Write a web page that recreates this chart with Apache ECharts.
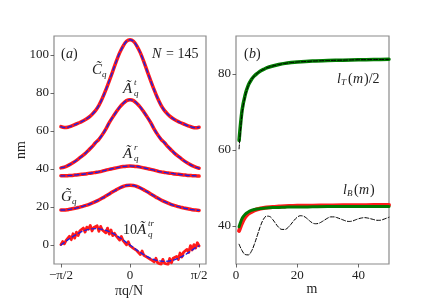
<!DOCTYPE html>
<html><head><meta charset="utf-8">
<script src="https://cdn.jsdelivr.net/npm/echarts@6/dist/echarts.min.js"></script>
<style>html,body{margin:0;padding:0;background:#fff}#c{width:432px;height:302px}</style>
</head><body><div id="c"></div>
<script>
// ---------- data: panel (a) ----------
// q in units of pi/2
const qGrid = [-1,-0.95,-0.9,-0.85,-0.8,-0.75,-0.7,-0.65,-0.6,-0.55,-0.5,-0.45,-0.4,-0.35,-0.3,-0.25,-0.2,-0.15,-0.1,-0.05,0,0.05,0.1,0.15,0.2,0.25,0.3,0.35,0.4,0.45,0.5,0.55,0.6,0.65,0.7,0.75,0.8,0.85,0.9,0.95,1];
const Cq  = [62.3,61.8,62.0,62.6,63.3,64.1,64.9,65.9,67.1,68.7,70.7,73.5,77.2,81.6,86.4,91.4,96.5,101.1,104.7,107.2,108.0,107.2,104.7,101.1,96.5,91.4,86.4,81.6,77.2,73.5,70.7,68.7,67.1,65.9,64.9,64.1,63.3,62.6,62.0,61.7,62.0];
const Atq = [40.6,41.0,41.8,42.8,43.9,45.2,46.6,48.1,49.9,51.7,53.8,55.6,58.1,61.0,64.4,67.3,70.0,72.5,74.5,76.0,76.5,76.0,74.5,72.5,70.0,67.3,64.4,61.0,58.1,55.6,53.8,51.7,49.9,48.1,46.6,45.2,43.9,42.8,41.8,41.0,40.4];
const Arq = [36.4,36.4,36.5,36.6,36.8,37.0,37.2,37.4,37.7,37.9,38.2,38.5,38.9,39.4,39.8,40.2,40.6,41.0,41.3,41.5,41.6,41.5,41.3,41.0,40.6,40.2,39.8,39.4,38.9,38.5,38.2,37.9,37.7,37.4,37.2,37.0,36.8,36.6,36.5,36.4,36.3];
const Gq  = [18.4,18.4,18.6,18.9,19.3,19.7,20.2,20.7,21.3,22.0,22.8,23.7,24.7,25.8,26.9,28.0,29.0,30.0,30.8,31.3,31.5,31.3,30.8,30.0,29.0,28.0,26.9,25.8,24.7,23.7,22.8,22.0,21.3,20.7,20.2,19.7,19.3,18.9,18.6,18.4,18.2];
const AtrFit = [0,1.3,2.7,3.9,5.1,6.1,7.0,7.7,8.2,8.5,8.6,8.5,8.2,7.7,7.0,6.1,5.1,3.9,2.7,1.3,0,-1.3,-2.7,-3.9,-5.1,-6.1,-7.0,-7.7,-8.2,-8.5,-8.6,-8.5,-8.2,-7.7,-7.0,-6.1,-5.1,-3.9,-2.7,-1.4,-0.4];
const qFine = [-1,-0.975,-0.95,-0.925,-0.9,-0.875,-0.85,-0.825,-0.8,-0.775,-0.75,-0.725,-0.7,-0.675,-0.65,-0.625,-0.6,-0.575,-0.55,-0.525,-0.5,-0.475,-0.45,-0.425,-0.4,-0.375,-0.35,-0.325,-0.3,-0.275,-0.25,-0.225,-0.2,-0.175,-0.15,-0.125,-0.1,-0.075,-0.05,-0.025,0,0.025,0.05,0.075,0.1,0.125,0.15,0.175,0.2,0.225,0.25,0.275,0.3,0.325,0.35,0.375,0.4,0.425,0.45,0.475,0.5,0.525,0.55,0.575,0.6,0.625,0.65,0.675,0.7,0.725,0.75,0.775,0.8,0.825,0.85,0.875,0.9,0.925,0.95,0.975,1];
const AtrData = [0.2,1.8,0.6,2.4,1.5,4.6,2.8,5.9,3.6,6.8,5.0,7.5,6.6,8.9,6.8,9.4,8.3,10.3,7.4,9.2,8.9,10.1,7.2,9.8,7.9,8.6,6.4,8.9,5.7,7.9,4.9,6.2,4.8,5.6,2.6,4.5,2.3,2.9,0.1,1.7,-0.4,-0.2,-1.8,-1.6,-3.0,-2.9,-5.0,-3.2,-5.4,-5.1,-6.5,-6.3,-7.6,-6.9,-8.9,-7.0,-9.3,-8.4,-10.2,-7.6,-9.6,-8.7,-10.3,-7.1,-9.4,-7.0,-7.8,-6.0,-7.6,-4.2,-6.3,-3.8,-4.4,-2.3,-3.9,-0.3,-2.6,0.2,-1.6,1.2,-0.5];
const aXTickPos = [-1,0,1];
const aXTickLabels = ['\u2212\u03c0/2','0','\u03c0/2'];
const aYTicks = [0,20,40,60,80,100];

// ---------- data: panel (b) ----------
const mGrid = [1,2,3,4,5,6,7,8,9,10,12,14,16,18,20,25,30,35,40,45,50];
const lTgreen = [62.5,70.5,74.5,77.0,78.5,79.5,80.2,80.8,81.2,81.6,82.1,82.5,82.8,83.0,83.15,83.4,83.55,83.65,83.75,83.8,83.85];
const lTblack = [60.3,69.8,74.2,76.9,78.5,79.5,80.2,80.8,81.2,81.6,82.1,82.5,82.8,83.0,83.15,83.4,83.55,83.65,83.75,83.8,83.85];
const lBred   = [38.7,40.8,42.3,43.2,43.7,44.1,44.4,44.6,44.75,44.85,45.0,45.1,45.2,45.25,45.3,45.35,45.4,45.45,45.45,45.5,45.5];
const lBgreen = [39.8,42.0,43.1,43.7,44.1,44.35,44.5,44.6,44.7,44.75,44.85,44.9,44.95,45.0,45.0,45.05,45.1,45.1,45.1,45.15,45.15];
const mFull = [1,2,3,4,5,6,7,8,9,10,11,12,13,14,15,16,17,18,19,20,21,22,23,24,25,26,27,28,29,30,31,32,33,34,35,36,37,38,39,40,41,42,43,44,45,46,47,48,49,50];
const lBblack = [35.2,33.5,32.5,32.4,33.3,35.2,37.6,40.0,41.8,42.6,42.5,41.7,40.6,39.6,39.1,39.1,39.6,40.5,41.5,42.3,42.7,42.6,42.1,41.4,40.8,40.6,40.7,41.1,41.6,42.1,42.4,42.4,42.2,41.9,41.6,41.3,41.2,41.3,41.6,41.9,42.1,42.2,42.1,41.9,41.7,41.5,41.5,41.7,42.0,42.3];
const bXTicks = [0,20,40];
const bYTicks = [40,60,80];

// ---------- chart ----------
const FONT = 'Liberation Serif';
const zip = (xs, ys) => xs.map((x, i) => [x, ys[i]]);
const chart = echarts.init(document.getElementById('c'), null, {renderer: 'canvas'});

function line(xi, yi, data, color, width, dash, z, smooth) {
  return {type: 'line', xAxisIndex: xi, yAxisIndex: yi, data: data, showSymbol: false,
    smooth: smooth === undefined ? 0.3 : smooth, z: z, silent: true, animation: false,
    lineStyle: {color: color, width: width, type: dash || 'solid', cap: 'round', join: 'round'}};
}
const RED = '#ff1a1a', BLUE = '#2020e0', GREEN = '#007a00';
const series = [];
[Cq, Atq, Arq, Gq].forEach(v => {
  series.push(line(0, 0, zip(qGrid, v), RED, 3.5, 'solid', 2));
  series.push(line(0, 0, zip(qGrid, v), BLUE, 1.4, [4, 3], 3));
});
series.push(line(0, 0, zip(qFine, AtrData), RED, 2.8, 'solid', 2, false));
series.push(line(0, 0, zip(qGrid, AtrFit), BLUE, 1.4, [4, 3], 3));

series.push(line(1, 1, zip(mGrid, lBred), RED, 4, 'solid', 2));
series.push(line(1, 1, zip(mGrid, lBgreen), GREEN, 3, 'solid', 3));
series.push(line(1, 1, zip(mGrid, lTgreen), GREEN, 3.5, 'solid', 3));
series.push(line(1, 1, zip(mGrid, lTblack), '#000', 1, [4, 2], 4));
series.push(line(1, 1, zip(mFull, lBblack), '#000', 1, [4, 2], 4, 0.4));

const axisCommon = {
  axisLine: {show: false, onZero: false},
  splitLine: {show: false},
  axisTick: {show: true, length: 3.5, lineStyle: {color: '#444', width: 0.8}},
  axisLabel: {fontFamily: FONT, fontSize: 13, color: '#222'}
};
function xAx(grid, min, max, ticks, fmt) {
  return Object.assign({}, axisCommon, {type: 'value', gridIndex: grid, min: min, max: max, position: 'bottom',
    axisTick: Object.assign({}, axisCommon.axisTick, {customValues: ticks}),
    axisLabel: Object.assign({}, axisCommon.axisLabel, {customValues: ticks, margin: 5, formatter: fmt})});
}
function yAx(grid, min, max, ticks) {
  return Object.assign({}, axisCommon, {type: 'value', gridIndex: grid, min: min, max: max, position: 'left',
    axisTick: Object.assign({}, axisCommon.axisTick, {customValues: ticks}),
    axisLabel: Object.assign({}, axisCommon.axisLabel, {customValues: ticks, margin: 5})});
}

// math-style label helper: base text with optional sub and sup
function mathText(x, y, parts) {
  return parts.map(p => ({type: 'text', x: x + (p.dx || 0), y: y + (p.dy || 0), silent: true,
    style: {text: p.t, fontFamily: FONT, fontStyle: p.it === false ? 'normal' : 'italic',
      fontSize: p.fs || 13, fill: '#222', textVerticalAlign: 'middle', textAlign: p.al || 'left'}}));
}
const graphics = [].concat(
  mathText(61, 54, [{t: '(', it: false, fs: 14}, {t: 'a', dx: 5, fs: 14}, {t: ')', dx: 12, it: false, fs: 14}]),
  mathText(152, 54, [{t: 'N', fs: 14}, {t: '= 145', dx: 14, it: false, fs: 14}]),
  mathText(92, 70, [{t: 'C\u0303', fs: 15}, {t: 'q', dx: 10, dy: 5, fs: 9}]),
  mathText(123, 89, [{t: '\u00c3', fs: 15}, {t: 't', dx: 11, dy: -6, fs: 9}, {t: 'q', dx: 11, dy: 5, fs: 9}]),
  mathText(123, 154, [{t: '\u00c3', fs: 15}, {t: 'r', dx: 11, dy: -6, fs: 9}, {t: 'q', dx: 11, dy: 5, fs: 9}]),
  mathText(61, 197, [{t: 'G\u0303', fs: 15}, {t: 'q', dx: 11, dy: 5, fs: 9}]),
  mathText(123, 230, [{t: '10', it: false, fs: 14}, {t: '\u00c3', dx: 14, fs: 15}, {t: 'tr', dx: 25, dy: -6, fs: 9}, {t: 'q', dx: 25, dy: 5, fs: 9}]),
  mathText(244, 54, [{t: '(', it: false, fs: 14}, {t: 'b', dx: 5, fs: 14}, {t: ')', dx: 12, it: false, fs: 14}]),
  mathText(337, 79, [{t: 'l', fs: 14}, {t: 'T', dx: 4, dy: 4, fs: 9}, {t: '(', dx: 11, it: false, fs: 14}, {t: 'm', dx: 16, fs: 14}, {t: ')/2', dx: 27, it: false, fs: 14}]),
  mathText(343, 190, [{t: 'l', fs: 14}, {t: 'B', dx: 4, dy: 4, fs: 9}, {t: '(', dx: 11, it: false, fs: 14}, {t: 'm', dx: 16, fs: 14}, {t: ')', dx: 27, it: false, fs: 14}]),
  [{type: 'text', x: 21, y: 150, rotation: Math.PI / 2, silent: true,
    style: {text: 'nm', fontFamily: FONT, fontSize: 14, fill: '#222', textAlign: 'center', textVerticalAlign: 'middle'}},
   {type: 'text', x: 129, y: 291, silent: true,
    style: {text: '\u03c0q/N', fontFamily: FONT, fontSize: 14, fill: '#222', textAlign: 'center', textVerticalAlign: 'middle'}},
   {type: 'text', x: 312, y: 289, silent: true,
    style: {text: 'm', fontFamily: FONT, fontSize: 14, fill: '#222', textAlign: 'center', textVerticalAlign: 'middle'}}]
);

chart.setOption({
  animation: false,
  backgroundColor: '#fff',
  grid: [
    {left: 54, top: 36, width: 152, height: 228, show: true, borderColor: '#8a8a8a', borderWidth: 1.2, backgroundColor: 'transparent'},
    {left: 236, top: 36, width: 153, height: 228, show: true, borderColor: '#8a8a8a', borderWidth: 1.2, backgroundColor: 'transparent'}
  ],
  xAxis: [
    xAx(0, -1.1, 1.1, aXTickPos, v => aXTickLabels[aXTickPos.indexOf(v)]),
    xAx(1, 0, 50, bXTicks)
  ],
  yAxis: [
    yAx(0, -10, 110, aYTicks),
    yAx(1, 30, 90, bYTicks)
  ],
  series: series,
  graphic: graphics
});
</script></body></html>
